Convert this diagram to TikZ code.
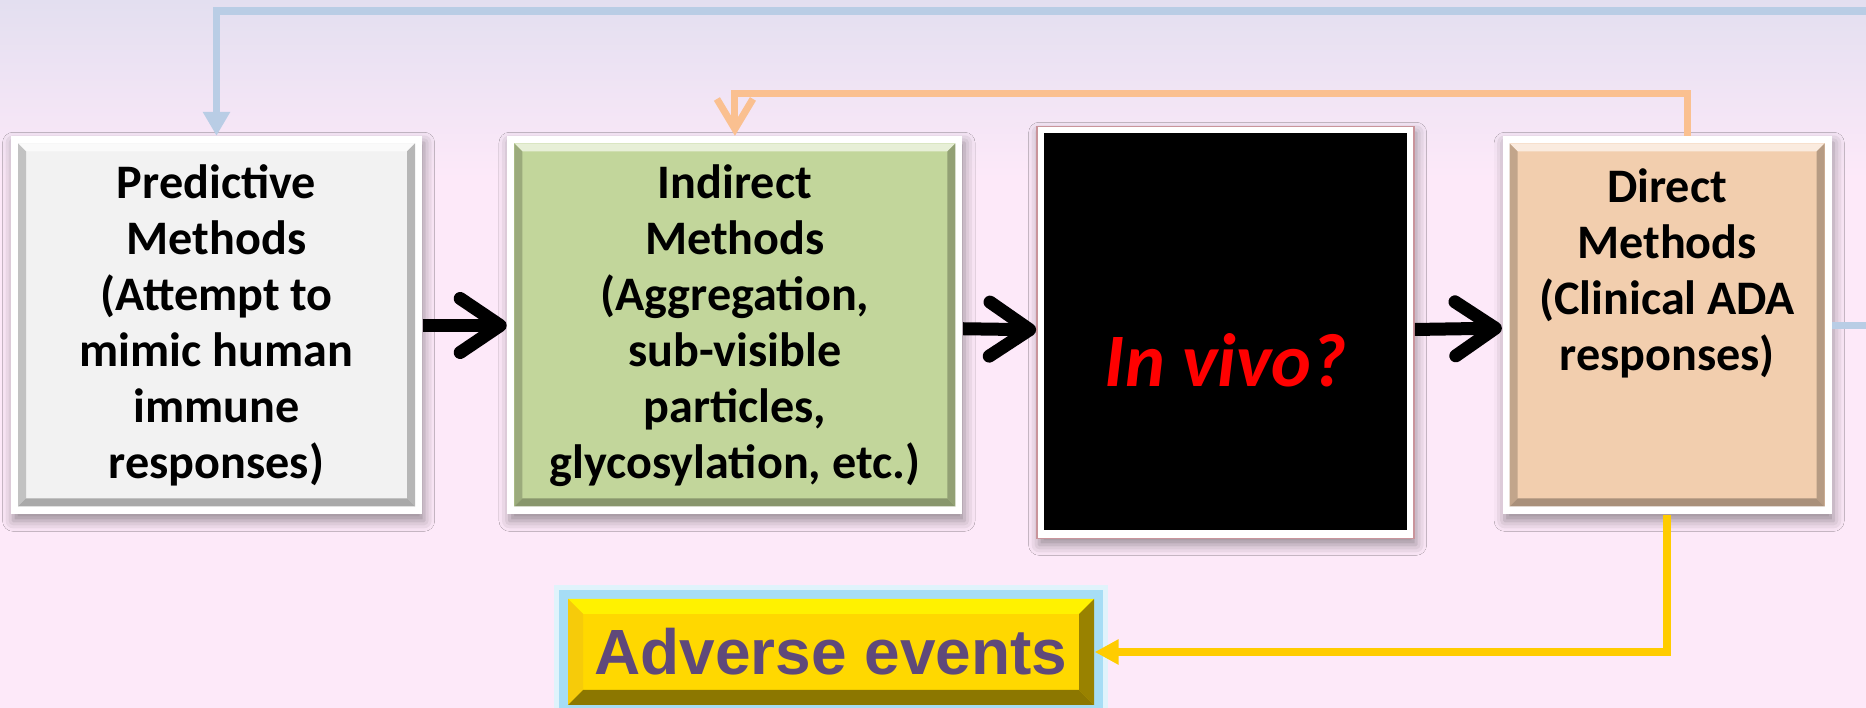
\documentclass[tikz,border=0pt]{standalone}
\usepackage{fontspec}
\setmainfont{Carlito}
\newfontfamily\arialfont{Liberation Sans}
\usepackage{tikz}
\usetikzlibrary{positioning,arrows.meta,shadows.blur}

\definecolor{lavtop}{HTML}{E3DFF0}
\definecolor{pinkbg}{HTML}{FDE9F9}
\definecolor{predgray}{HTML}{F2F2F2}
\definecolor{indgreen}{HTML}{C2D69B}
\definecolor{dirpeach}{HTML}{F2CEAE}
\definecolor{advgold}{HTML}{FFD800}
\definecolor{advpurple}{HTML}{5F497A}
\definecolor{glowcyan}{HTML}{A6DDF5}
\definecolor{fbblue}{HTML}{B9CDE5}
\definecolor{fborange}{HTML}{FAC090}
\definecolor{fbyellow}{HTML}{FFCC00}
\definecolor{vivoedge}{HTML}{C9949B}

% bevelled inner panel: colour, bevel width
\tikzset{
	bevel/.style 2 args={path picture={
		\path (path picture bounding box.south west) ++(0.07,0.08) coordinate (ia)
		      (path picture bounding box.north east) ++(-0.07,-0.07) coordinate (ib);
		\fill[#1] (ia) rectangle (ib);
		\fill[#1!40!white] (ib) -- (ib -| ia) -- ++(#2,-#2) -- ([shift={(-#2,-#2)}]ib) -- cycle;
		\fill[#1!80!black] (ia) -- (ia |- ib) -- ++(#2,-#2) -- ([shift={(#2,#2)}]ia) -- cycle;
		\fill[#1!75!black] (ib) -- (ib |- ia) -- ++(-#2,#2) -- ([shift={(-#2,-#2)}]ib) -- cycle;
		\fill[#1!70!black] (ia) -- (ia -| ib) -- ++(-#2,#2) -- ([shift={(#2,#2)}]ia) -- cycle;
	}}
}

\begin{document}
\begin{tikzpicture}[
	method/.style={fill=white, minimum height=3.78cm, align=center,
		font=\fontsize{13.7}{15.9}\selectfont\bfseries,
		blur shadow={shadow xshift=0.6pt, shadow yshift=-1.8pt, shadow blur radius=3pt},
		bevel={#1}{0.08}},
	flow/.style={line width=3.7pt, -{Straight Barb[length=4mm,width=5.4mm,round]}},
	fbline/.style={line width=2.2pt, rounded corners=0pt}
	]
	\useasboundingbox (0,0) rectangle (18.66,7.08);
	\fill[pinkbg] (0,0) rectangle (18.66,7.08);
	\shade[top color=lavtop, bottom color=pinkbg] (0,5.3) rectangle (18.66,7.08);

	\node[method=predgray, minimum width=4.11cm] (pred) at (2.165,3.825)
		{Predictive\\Methods\\(Attempt to\\mimic human\\immune\\responses)};
	\node[method=indgreen, minimum width=4.55cm] (ind) [right=0.84cm of pred]
		{Indirect\\Methods\\(Aggregation,\\sub-visible\\particles,\\glycosylation, etc.)};
	\node[fill=white, draw=vivoedge, line width=0.5pt, minimum width=3.77cm, minimum height=4.12cm,
		blur shadow={shadow xshift=0.6pt, shadow yshift=-1.8pt, shadow blur radius=3pt},
		path picture={\fill[black] ([shift={(0.07,0.08)}]path picture bounding box.south west)
			rectangle ([shift={(-0.07,-0.07)}]path picture bounding box.north east);},
		font=\fontsize{21.5}{26}\selectfont\bfseries\itshape, text=red]
		(vivo) [right=0.73cm of ind, yshift=-0.07cm] {\raisebox{-0.54cm}[0pt][0pt]{In vivo?}};
	\node[method=dirpeach, minimum width=3.29cm] (dir) [right=0.87cm of vivo, yshift=0.07cm]
		{Direct\\Methods\\(Clinical ADA\\responses)\\\mbox{}\\\mbox{}};

	\node[minimum width=5.26cm, minimum height=1.06cm, fill=advgold,
		preaction={draw=glowcyan!35, line width=8pt},
		preaction={draw=glowcyan, line width=5pt},
		path picture={
			\path (path picture bounding box.south west) coordinate (aa)
			      (path picture bounding box.north east) coordinate (ab);
			\fill[yellow] (ab) -- (ab -| aa) -- ++(0.15,-0.15) -- ([shift={(-0.15,-0.15)}]ab) -- cycle;
			\fill[advgold!85!brown] (aa) -- (aa |- ab) -- ++(0.15,-0.15) -- ([shift={(0.15,0.15)}]aa) -- cycle;
			\fill[advgold!60!black] (ab) -- (ab |- aa) -- ++(-0.15,0.15) -- ([shift={(-0.15,-0.15)}]ab) -- cycle;
			\fill[advgold!55!black] (aa) -- (aa -| ab) -- ++(-0.15,0.15) -- ([shift={(0.15,0.15)}]aa) -- cycle;
		},
		font=\arialfont\fontsize{18.2}{22}\selectfont\bfseries, text=advpurple]
		(adv) at (8.31,0.56) {Adverse events};

	\coordinate (far) at (19.4,6.97);

	\path[flow]
		(pred) edge (ind)
		(ind) edge (vivo)
		(vivo) edge (dir);

	% feedback lines
	\draw[fbline, fbblue, -{Triangle[length=2.4mm,width=2.6mm]}] (dir.east) -| (far) -| (pred.north);
	\draw[fbline, fborange, line width=2pt, -{Straight Barb[length=3mm,width=3.6mm]}]
		([xshift=2mm]dir.north) -- ++(0,0.42) -| (ind.north);
	\draw[fbline, fbyellow, -{Triangle[length=2.4mm,width=2.4mm]}] (dir.south) |- (adv.east);
\end{tikzpicture}
\end{document}
